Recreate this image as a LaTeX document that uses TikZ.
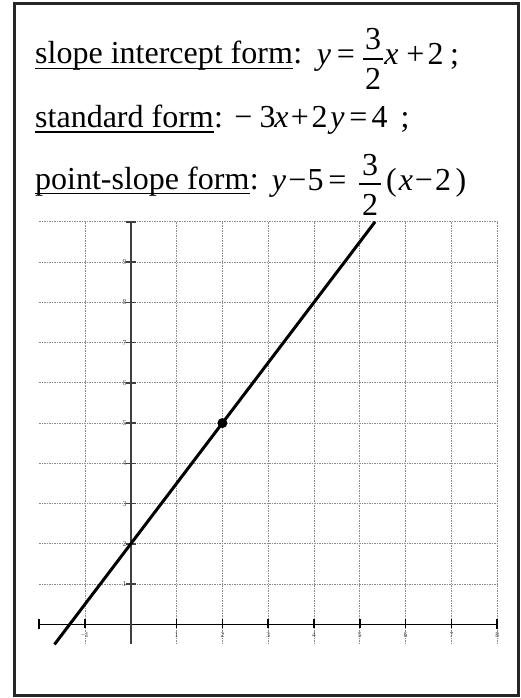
\documentclass[tikz,border=0pt]{standalone}
\usepackage{fontspec}
\setmainfont{Liberation Serif}
\tikzset{
  lbl/.style={inner sep=0pt, anchor=base west, font=\fontsize{32bp}{38bp}\selectfont},
  gl/.style={inner sep=0pt, anchor=base, font=\fontsize{32bp}{38bp}\selectfont},
  ulinestyle/.style={line width=1.8bp},
  fracbar/.style={line width=1.4bp},
  gridstyle/.style={draw=black!45, line width=0.8bp, dash pattern=on 1.6bp off 0.9bp},
  xaxis/.style={line width=1.5bp, draw=black},
  yaxis/.style={line width=1.6bp, draw=black!75},
  ticklab/.style={inner sep=0pt, font=\fontsize{7.5bp}{8bp}\selectfont, text=black!70},
  graphline/.style={line width=3bp, draw=black},
  framestyle/.style={line width=3bp, draw=black!85},
  dotstyle/.style={circle, fill=black, inner sep=0pt, minimum size=10bp},
}
\begin{document}
\begin{tikzpicture}[x=1bp, y=-1bp]
\useasboundingbox (0,0) rectangle (521,698);
\draw[framestyle] (14,4) rectangle (518,695);

% ---- line 1: slope intercept form
\node[lbl] (s1) at (35,64) {slope intercept form};
\node[lbl] (c1) at (s1.base east) {:};
\draw[ulinestyle] ([yshift=-4.5bp]s1.base west) -- ([yshift=-4.5bp]s1.base east);
\foreach \g/\cx [count=\i] in {{\itshape y}/324, {=}/346, {\itshape x}/391.5, {+}/415.5, {2}/435.5, {;}/454.5}
  \node[gl] (a\i) at (\cx,65) {\g};
\node[gl] (f1n) at (373,50) {3};
\node[gl] (f1d) at (373,90) {2};
\draw[fracbar] (363,59) -- (383,59);

% ---- line 2: standard form
\node[lbl] (s2) at (35,127.5) {standard form};
\node[lbl] (c2) at (s2.base east) {:};
\draw[ulinestyle] ([yshift=-4.5bp]s2.base west) -- ([yshift=-4.5bp]s2.base east);
\foreach \g/\cx [count=\i] in {{−}/243.5, {3}/267.5, {\itshape x}/281.5, {+}/300, {2}/319.5, {\itshape y}/337.5, {=}/358.5, {4}/379.5, {;}/405}
  \node[gl] (b\i) at (\cx,128) {\g};

% ---- line 3: point-slope form
\node[lbl] (s3) at (35,189) {point-slope form};
\node[lbl] (c3) at (s3.base east) {:};
\draw[ulinestyle] ([yshift=-4.5bp]s3.base west) -- ([yshift=-4.5bp]s3.base east);
\foreach \g/\cx [count=\i] in {{\itshape y}/279, {−}/297.5, {5}/315.5, {=}/337.5, {(}/391.5, {\itshape x}/406, {−}/424, {2}/443, {)}/461}
  \node[gl] (d\i) at (\cx,190) {\g};
\node[gl] (f3n) at (370,175) {3};
\node[gl] (f3d) at (370,215) {2};
\draw[fracbar] (359,184) -- (381,184);

% ---- coordinate grid
\begin{scope}[xshift=130.8bp, yshift=-624.3bp, x=45.8bp, y=40.25bp]
  \foreach \k in {-1,1,2,3,4,5,6,7,8} \draw[gridstyle] (\k,-0.5) -- (\k,10);
  \foreach \k in {1,2,3,4,5,6,7,8,9,10} \draw[gridstyle] (-2,\k) -- (8,\k);
  \draw[xaxis] (-2,0) -- (8,0);
  \draw[xaxis] (-2,-0.12) -- (-2,0.12);
  \draw[xaxis] (8,-0.12) -- (8,0.12);
  \foreach \k in {-1,1,2,3,4,5,6,7} \draw[xaxis] (\k,-0.08) -- (\k,0.12);
  \draw[yaxis] (0,-0.5) -- (0,10);
  \draw[yaxis] (-0.11,10) -- (0.11,10);
  \foreach \k in {1,2,3,4,5,6,7,8,9} \draw[yaxis] (-0.11,\k) -- (0.11,\k);
  \foreach \k/\t [count=\i] in {-1/{−1},1/1,2/2,3/3,4/4,5/5,6/6,7/7,8/8}
    \node[ticklab] (xl\i) at (\k,-0.27) {\t};
  \foreach \k [count=\i] in {1,2,3,4,5,6,7,8,9}
    \node[ticklab] (yl\i) at (-0.14,\k) {\k};
  \coordinate (lnA) at (-5/3,-0.5);
  \coordinate (lnB) at (16/3,10);
  \draw[graphline] (lnA) -- (lnB);
  \node[dotstyle] (pt) at (2,5) {};
\end{scope}
\end{tikzpicture}
\end{document}
